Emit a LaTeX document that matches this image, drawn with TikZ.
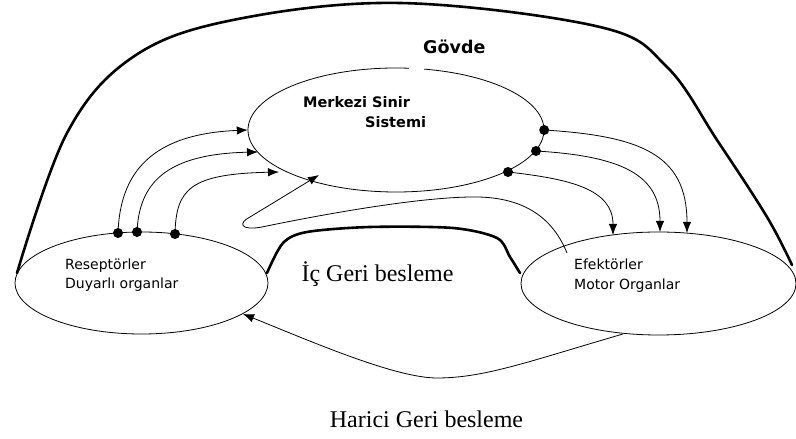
\documentclass[tikz,border=0pt]{standalone}
\usepackage{fontspec}
\setmainfont{Liberation Serif}
\setsansfont{DejaVu Sans}
\usetikzlibrary{shapes.geometric,arrows.meta}
\begin{document}
\begin{tikzpicture}[x=1pt,y=1pt,
  ell/.style={ellipse, draw, line width=0.8pt, inner sep=0pt},
  conn/.style={line width=0.8pt, -{Latex[length=11pt,width=8.5pt]}},
  heavy/.style={line width=2.6pt, line cap=round, line join=round},
  dotmark/.style={circle, fill=black, inner sep=0pt, minimum size=10pt},
  lbl/.style={font=\sffamily\fontsize{14}{17}\selectfont, anchor=base west, inner sep=0pt},
  blbl/.style={font=\sffamily\bfseries\fontsize{14.5}{17}\selectfont, anchor=base west, inner sep=0pt},
  glbl/.style={font=\sffamily\bfseries\fontsize{17.5}{21}\selectfont, anchor=base west, inner sep=0pt},
  slbl/.style={font=\fontsize{24}{28}\selectfont, anchor=base, inner sep=0pt}
]
\useasboundingbox (0,0) rectangle (796,439);

% ellipses
\node[ellipse, inner sep=0pt, minimum width=296pt, minimum height=124pt] (cns) at (396,309) {};
\draw[line width=0.8pt] (cns.center) ++(85:148 and 62) arc[start angle=85, end angle=439, x radius=148, y radius=62];
\node[ell, minimum width=253pt, minimum height=102pt] (rec) at (141.5,156) {};
\node[ell, minimum width=275pt, minimum height=103pt] (eff) at (658.5,155.5) {};

% named points
\coordinate (d1) at (118,206);
\coordinate (d2) at (137,207);
\coordinate (d3) at (175,205);
\coordinate (t1) at (cns.180);
\coordinate (t2) at (258,287);
\coordinate (t3) at (279,267);
\coordinate (t4) at (319,264);
\coordinate (d4) at (cns.0);
\coordinate (d5) at (536,288);
\coordinate (d6) at (508,267);
\coordinate (e1) at (613,204);
\coordinate (e2) at (660,207);
\coordinate (e3) at (687,206);
\coordinate (lp0) at (567,186);
\coordinate (h0) at (623,105);
\coordinate (h1) at (243,125);
\coordinate (o0) at (17,166);
\coordinate (o1) at (792,174);
\coordinate (b0) at (267,166);
\coordinate (b1) at (520,166);

% outer body curve
\draw[heavy] plot[smooth, tension=0.6] coordinates {(o0) (67,306) (133,382) (233,419) (400,436) (600,412) (667,372) (717,299) (767,222) (o1)};

% inner feedback bump
\draw[heavy] plot[smooth, tension=0.5] coordinates {(b0) (283,196) (307,207) (370,212) (453,211) (497,201) (510,182) (b1)};

% receptor -> CNS
\draw[conn] (d1) .. controls (120,265) and (150,305) .. (t1);
\draw[conn] (d2) .. controls (139,255) and (165,285) .. (t2);
\draw[conn] (d3) .. controls (176,250) and (190,265) .. (t3);

% CNS -> effector
\draw[conn] (d4) .. controls (640,303) and (687,285) .. (e3);
\draw[conn] (d5) .. controls (620,283) and (660,265) .. (e2);
\draw[conn] (d6) .. controls (570,260) and (613,250) .. (e1);

% internal feedback loop
\draw[conn] (lp0) .. controls (550,228) and (515,243) .. (470,242)
  .. controls (410,241) and (310,222) .. (262,212)
  .. controls (240,208) and (238,216) .. (250,222) -- (t4);

% external feedback
\draw[conn] (h0) .. controls (530,78) and (485,61) .. (437,61)
  .. controls (395,61) and (310,98) .. (h1);

% dots
\foreach \p in {d1,d2,d3,d4,d5,d6} \node[dotmark] at (\p) {};

% labels
\node[glbl] (gov) at (423,385) {Gövde};
\node[blbl] (cnsA) at (303,331) {Merkezi Sinir};
\node[blbl] (cnsB) at (365,311) {Sistemi};
\node[lbl] (recA) at (65,169) {Reseptörler};
\node[lbl] (recB) at (65,150) {Duyarlı organlar};
\node[lbl] (effA) at (574,169) {Efektörler};
\node[lbl] (effB) at (574,149) {Motor Organlar};
\node[slbl] (ic) at (377.5,157) {İç Geri besleme};
\node[slbl] (har) at (426.5,11) {Harici Geri besleme};
\end{tikzpicture}
\end{document}
